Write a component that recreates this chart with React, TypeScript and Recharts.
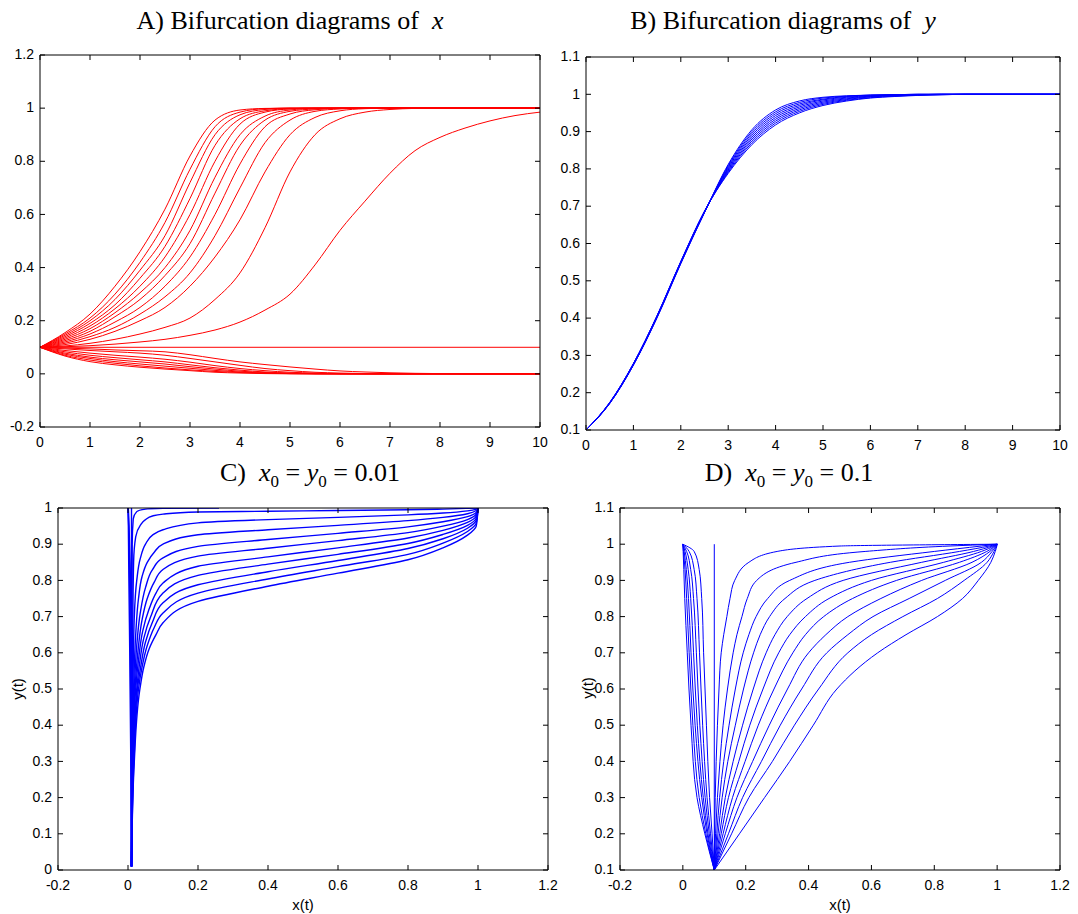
import React from 'react';
import { LineChart, Line, XAxis, YAxis } from 'recharts';

// ---------------- Panel A data: x(t), t = 0..10 ----------------
const T_A = [0, 0.5, 1, 1.5, 2, 2.5, 3, 3.5, 4, 4.5, 5, 5.5, 6, 6.5, 7, 7.5, 8, 8.5, 9, 9.5, 10];
const A_UP_1 = [0.1, 0.155, 0.225, 0.33, 0.46, 0.62, 0.82, 0.955, 0.993, 0.999, 1, 1, 1, 1, 1, 1, 1, 1, 1, 1, 1];
const A_UP_2 = [0.1, 0.15, 0.21, 0.3, 0.42, 0.57, 0.77, 0.93, 0.985, 0.998, 1, 1, 1, 1, 1, 1, 1, 1, 1, 1, 1];
const A_UP_3 = [0.1, 0.145, 0.2, 0.28, 0.39, 0.52, 0.72, 0.9, 0.975, 0.995, 1, 1, 1, 1, 1, 1, 1, 1, 1, 1, 1];
const A_UP_4 = [0.1, 0.14, 0.19, 0.26, 0.36, 0.48, 0.66, 0.86, 0.96, 0.99, 0.998, 1, 1, 1, 1, 1, 1, 1, 1, 1, 1];
const A_UP_5 = [0.1, 0.135, 0.18, 0.245, 0.33, 0.44, 0.6, 0.8, 0.94, 0.985, 0.997, 1, 1, 1, 1, 1, 1, 1, 1, 1, 1];
const A_UP_6 = [0.1, 0.13, 0.17, 0.23, 0.305, 0.4, 0.54, 0.74, 0.9, 0.97, 0.993, 0.999, 1, 1, 1, 1, 1, 1, 1, 1, 1];
const A_UP_7 = [0.1, 0.125, 0.16, 0.215, 0.28, 0.37, 0.49, 0.68, 0.86, 0.955, 0.988, 0.997, 1, 1, 1, 1, 1, 1, 1, 1, 1];
const A_UP_8 = [0.1, 0.12, 0.15, 0.195, 0.25, 0.33, 0.44, 0.6, 0.79, 0.93, 0.978, 0.994, 0.999, 1, 1, 1, 1, 1, 1, 1, 1];
const A_UP_9 = [0.1, 0.115, 0.14, 0.175, 0.225, 0.29, 0.38, 0.52, 0.7, 0.87, 0.955, 0.988, 0.997, 1, 1, 1, 1, 1, 1, 1, 1];
const A_UP_10 = [0.1, 0.11, 0.13, 0.16, 0.2, 0.25, 0.33, 0.44, 0.58, 0.76, 0.9, 0.965, 0.99, 0.998, 1, 1, 1, 1, 1, 1, 1];
const A_UP_11 = [0.1, 0.105, 0.115, 0.13, 0.15, 0.175, 0.21, 0.28, 0.38, 0.55, 0.76, 0.9, 0.96, 0.985, 0.995, 0.999, 1, 1, 1, 1, 1];
const A_UP_12 = [0.1, 0.102, 0.106, 0.112, 0.12, 0.13, 0.145, 0.165, 0.195, 0.24, 0.3, 0.41, 0.54, 0.65, 0.755, 0.84, 0.89, 0.925, 0.952, 0.972, 0.985];
const A_FLAT = [0.1, 0.1, 0.1, 0.1, 0.1, 0.1, 0.1, 0.1, 0.1, 0.1, 0.1, 0.1, 0.1, 0.1, 0.1, 0.1, 0.1, 0.1, 0.1, 0.1, 0.1];
const A_LOW_1 = [0.1, 0.097, 0.094, 0.09, 0.087, 0.083, 0.072, 0.058, 0.045, 0.035, 0.026, 0.018, 0.011, 0.007, 0.004, 0.002, 0.001, 0, 0, 0, 0];
const A_LOW_2 = [0.1, 0.094, 0.088, 0.083, 0.078, 0.07, 0.058, 0.045, 0.032, 0.02, 0.012, 0.006, 0.003, 0.001, 0, 0, 0, 0, 0, 0, 0];
const A_LOW_3 = [0.1, 0.088, 0.078, 0.07, 0.063, 0.055, 0.044, 0.031, 0.02, 0.012, 0.006, 0.003, 0.001, 0, 0, 0, 0, 0, 0, 0, 0];
const A_LOW_4 = [0.1, 0.083, 0.07, 0.061, 0.053, 0.045, 0.034, 0.023, 0.014, 0.007, 0.003, 0.001, 0, 0, 0, 0, 0, 0, 0, 0, 0];
const A_LOW_5 = [0.1, 0.078, 0.063, 0.053, 0.045, 0.037, 0.027, 0.018, 0.01, 0.005, 0.002, 0.001, 0, 0, 0, 0, 0, 0, 0, 0, 0];
const A_LOW_6 = [0.1, 0.074, 0.058, 0.046, 0.037, 0.029, 0.021, 0.013, 0.007, 0.003, 0.001, 0, 0, 0, 0, 0, 0, 0, 0, 0, 0];
const A_LOW_7 = [0.1, 0.07, 0.052, 0.04, 0.03, 0.022, 0.015, 0.009, 0.005, 0.002, 0.001, 0, 0, 0, 0, 0, 0, 0, 0, 0, 0];
const A_LOW_8 = [0.1, 0.067, 0.046, 0.034, 0.025, 0.018, 0.012, 0.006, 0.003, 0.001, 0, 0, 0, 0, 0, 0, 0, 0, 0, 0, 0];

// ---------------- Panel B data: y(t) ----------------
const B_1 = [0.1, 0.171, 0.274, 0.401, 0.546, 0.683, 0.812, 0.905, 0.958, 0.982, 0.992, 0.996, 0.998, 0.999, 1, 1, 1, 1, 1, 1, 1];
const B_2 = [0.1, 0.171, 0.274, 0.402, 0.547, 0.683, 0.809, 0.9, 0.953, 0.978, 0.99, 0.995, 0.998, 0.999, 1, 1, 1, 1, 1, 1, 1];
const B_3 = [0.1, 0.172, 0.275, 0.403, 0.548, 0.684, 0.806, 0.895, 0.948, 0.974, 0.987, 0.994, 0.997, 0.999, 1, 1, 1, 1, 1, 1, 1];
const B_4 = [0.1, 0.172, 0.275, 0.404, 0.549, 0.684, 0.803, 0.89, 0.943, 0.97, 0.985, 0.992, 0.996, 0.998, 0.999, 1, 1, 1, 1, 1, 1];
const B_5 = [0.1, 0.172, 0.276, 0.405, 0.55, 0.685, 0.8, 0.885, 0.938, 0.966, 0.982, 0.99, 0.995, 0.998, 0.999, 1, 1, 1, 1, 1, 1];
const B_6 = [0.1, 0.173, 0.277, 0.405, 0.55, 0.685, 0.797, 0.88, 0.933, 0.962, 0.979, 0.988, 0.994, 0.997, 0.999, 1, 1, 1, 1, 1, 1];
const B_7 = [0.1, 0.173, 0.277, 0.406, 0.551, 0.686, 0.794, 0.875, 0.928, 0.958, 0.976, 0.986, 0.993, 0.996, 0.998, 0.999, 1, 1, 1, 1, 1];
const B_8 = [0.1, 0.173, 0.278, 0.406, 0.551, 0.686, 0.791, 0.87, 0.923, 0.954, 0.973, 0.984, 0.991, 0.995, 0.998, 0.999, 1, 1, 1, 1, 1];
const B_9 = [0.1, 0.174, 0.278, 0.407, 0.552, 0.687, 0.788, 0.865, 0.918, 0.95, 0.97, 0.982, 0.99, 0.994, 0.997, 0.999, 1, 1, 1, 1, 1];

// ---------------- Panel C data: phase plane (x, y), x0 = y0 = 0.01 ----------------
const C_UP_1 = [[0.01, 0.01], [0.011, 0.3], [0.013, 0.6], [0.016, 0.85], [0.022, 0.92], [0.035, 0.952], [0.05, 0.968], [0.07, 0.978], [0.1, 0.983], [0.2, 0.989], [0.4, 0.991], [0.6, 0.993], [0.8, 0.995], [0.9, 0.997], [0.97, 0.999], [1, 1]];
const C_UP_2 = [[0.01, 0.01], [0.011, 0.3], [0.014, 0.5], [0.018, 0.7], [0.025, 0.8], [0.035, 0.86], [0.05, 0.9], [0.07, 0.925], [0.1, 0.94], [0.2, 0.959], [0.4, 0.968], [0.6, 0.974], [0.8, 0.981], [0.9, 0.986], [0.97, 0.992], [0.995, 0.997], [1, 1]];
const C_UP_3 = [[0.01, 0.01], [0.012, 0.3], [0.016, 0.5], [0.022, 0.65], [0.03, 0.75], [0.04, 0.81], [0.055, 0.85], [0.075, 0.878], [0.1, 0.9], [0.2, 0.926], [0.4, 0.94], [0.6, 0.952], [0.8, 0.965], [0.9, 0.974], [0.97, 0.984], [0.995, 0.993], [1, 1]];
const C_UP_4 = [[0.01, 0.01], [0.012, 0.3], [0.018, 0.5], [0.025, 0.62], [0.035, 0.71], [0.05, 0.78], [0.07, 0.83], [0.1, 0.862], [0.2, 0.894], [0.4, 0.913], [0.6, 0.93], [0.8, 0.948], [0.9, 0.962], [0.97, 0.976], [0.995, 0.988], [1, 1]];
const C_UP_5 = [[0.01, 0.01], [0.013, 0.3], [0.02, 0.5], [0.028, 0.6], [0.04, 0.69], [0.055, 0.75], [0.075, 0.795], [0.1, 0.83], [0.2, 0.867], [0.4, 0.889], [0.6, 0.91], [0.8, 0.932], [0.9, 0.95], [0.97, 0.968], [0.995, 0.983], [1, 1]];
const C_UP_6 = [[0.01, 0.01], [0.014, 0.3], [0.022, 0.5], [0.03, 0.58], [0.042, 0.66], [0.06, 0.72], [0.08, 0.765], [0.1, 0.793], [0.2, 0.839], [0.4, 0.865], [0.6, 0.89], [0.8, 0.917], [0.9, 0.938], [0.97, 0.96], [0.995, 0.978], [1, 1]];
const C_UP_7 = [[0.01, 0.01], [0.015, 0.3], [0.025, 0.5], [0.033, 0.57], [0.045, 0.64], [0.065, 0.7], [0.1, 0.765], [0.2, 0.814], [0.4, 0.845], [0.6, 0.872], [0.8, 0.902], [0.9, 0.927], [0.97, 0.952], [0.995, 0.972], [1, 1]];
const C_UP_8 = [[0.01, 0.01], [0.016, 0.3], [0.027, 0.5], [0.036, 0.56], [0.05, 0.63], [0.07, 0.685], [0.1, 0.738], [0.2, 0.788], [0.4, 0.824], [0.6, 0.855], [0.8, 0.888], [0.9, 0.915], [0.97, 0.944], [0.995, 0.966], [1, 1]];
const C_UP_9 = [[0.01, 0.01], [0.017, 0.3], [0.03, 0.5], [0.04, 0.56], [0.055, 0.62], [0.075, 0.67], [0.1, 0.71], [0.2, 0.765], [0.4, 0.804], [0.6, 0.838], [0.8, 0.872], [0.9, 0.903], [0.97, 0.935], [0.995, 0.958], [1, 1]];
const C_UP_10 = [[0.01, 0.01], [0.018, 0.3], [0.034, 0.5], [0.045, 0.56], [0.06, 0.61], [0.08, 0.65], [0.1, 0.683], [0.2, 0.742], [0.4, 0.784], [0.6, 0.82], [0.8, 0.857], [0.9, 0.89], [0.97, 0.925], [0.995, 0.95], [1, 1]];
const C_TOP = [[0.01, 0.01], [0.011, 0.5], [0.012, 0.9], [0.015, 0.97], [0.025, 0.99], [0.05, 0.997], [0.1, 0.999], [0.26, 1]];
const C_CONST = [[0.01, 0.01], [0.01, 1]];
const C_DOWN_1 = [[0.01, 0.01], [0.009, 0.3], [0.007, 0.6], [0.004, 0.85], [0.002, 0.95], [0, 1]];
const C_DOWN_2 = [[0.01, 0.01], [0.01, 0.3], [0.009, 0.6], [0.006, 0.85], [0.003, 0.95], [0.001, 1]];
const C_DOWN_3 = [[0.01, 0.01], [0.008, 0.3], [0.005, 0.6], [0.002, 0.85], [0.001, 0.95], [0, 1]];

// ---------------- Panel D data: phase plane, x0 = y0 = 0.1 ----------------
const D_LEFT_Y = [0.1, 0.2, 0.3, 0.5, 0.7, 0.85, 0.93, 0.98, 1.0];
const D_LEFT_1 = [0.1, 0.093, 0.085, 0.075, 0.066, 0.06, 0.052, 0.036, 0];
const D_LEFT_2 = [0.1, 0.088, 0.077, 0.063, 0.053, 0.045, 0.036, 0.02, 0];
const D_LEFT_3 = [0.1, 0.084, 0.071, 0.054, 0.043, 0.034, 0.025, 0.012, 0];
const D_LEFT_4 = [0.1, 0.08, 0.065, 0.046, 0.034, 0.025, 0.017, 0.007, 0];
const D_LEFT_5 = [0.1, 0.077, 0.06, 0.039, 0.026, 0.018, 0.011, 0.004, 0];
const D_LEFT_6 = [0.1, 0.073, 0.052, 0.032, 0.02, 0.012, 0.007, 0.002, 0];
const D_LEFT_7 = [0.1, 0.07, 0.045, 0.026, 0.014, 0.006, 0.003, 0.001, 0];
const D_RIGHT_Y = [0.1, 0.2, 0.3, 0.4, 0.5, 0.6, 0.7, 0.75, 0.8, 0.85, 0.9, 0.95, 0.98, 0.995, 1.0];
const D_RIGHT_1 = [0.1, 0.101, 0.103, 0.106, 0.11, 0.115, 0.122, 0.13, 0.14, 0.15, 0.165, 0.21, 0.3, 0.5, 1];
const D_RIGHT_2 = [0.1, 0.104, 0.11, 0.118, 0.128, 0.142, 0.16, 0.172, 0.188, 0.205, 0.235, 0.36, 0.58, 0.85, 1];
const D_RIGHT_3 = [0.1, 0.108, 0.117, 0.13, 0.147, 0.167, 0.192, 0.21, 0.233, 0.27, 0.34, 0.53, 0.8, 0.95, 1];
const D_RIGHT_4 = [0.1, 0.112, 0.125, 0.143, 0.167, 0.193, 0.225, 0.246, 0.276, 0.325, 0.42, 0.66, 0.88, 0.975, 1];
const D_RIGHT_5 = [0.1, 0.117, 0.135, 0.16, 0.19, 0.224, 0.265, 0.293, 0.332, 0.395, 0.51, 0.76, 0.925, 0.985, 1];
const D_RIGHT_6 = [0.1, 0.122, 0.145, 0.178, 0.213, 0.255, 0.305, 0.34, 0.39, 0.465, 0.6, 0.83, 0.95, 0.99, 1];
const D_RIGHT_7 = [0.1, 0.128, 0.158, 0.198, 0.24, 0.29, 0.35, 0.39, 0.448, 0.54, 0.68, 0.88, 0.967, 0.993, 1];
const D_RIGHT_8 = [0.1, 0.135, 0.172, 0.222, 0.275, 0.333, 0.4, 0.455, 0.525, 0.63, 0.76, 0.92, 0.977, 0.995, 1];
const D_RIGHT_9 = [0.1, 0.145, 0.19, 0.25, 0.31, 0.378, 0.458, 0.525, 0.605, 0.72, 0.835, 0.95, 0.984, 0.997, 1];
const D_RIGHT_10 = [0.1, 0.155, 0.21, 0.285, 0.355, 0.432, 0.525, 0.6, 0.7, 0.81, 0.895, 0.968, 0.99, 0.998, 1];
const D_RIGHT_11 = [0.1, 0.18, 0.26, 0.34, 0.415, 0.49, 0.62, 0.71, 0.81, 0.89, 0.94, 0.98, 0.994, 0.999, 1];
const D_VERT = [[0.1, 0.1], [0.1, 1]];

// ---------------- Tick labels ----------------
const TICKS_T = [0, 1, 2, 3, 4, 5, 6, 7, 8, 9, 10];
const TICKS_A_Y = [-0.2, 0, 0.2, 0.4, 0.6, 0.8, 1, 1.2];
const TICKS_B_Y = [0.1, 0.2, 0.3, 0.4, 0.5, 0.6, 0.7, 0.8, 0.9, 1, 1.1];
const TICKS_PH_X = [-0.2, 0, 0.2, 0.4, 0.6, 0.8, 1, 1.2];
const TICKS_C_Y = [0, 0.1, 0.2, 0.3, 0.4, 0.5, 0.6, 0.7, 0.8, 0.9, 1];
const TICKS_D_Y = [0.1, 0.2, 0.3, 0.4, 0.5, 0.6, 0.7, 0.8, 0.9, 1, 1.1];

// ---------------- Build tables ----------------
const A_SERIES = [A_UP_1, A_UP_2, A_UP_3, A_UP_4, A_UP_5, A_UP_6, A_UP_7, A_UP_8, A_UP_9, A_UP_10, A_UP_11, A_UP_12, A_FLAT,
  A_LOW_1, A_LOW_2, A_LOW_3, A_LOW_4, A_LOW_5, A_LOW_6, A_LOW_7, A_LOW_8];
const A_DATA = T_A.map((t, i) => {
  const row: any = { t };
  A_SERIES.forEach((s, k) => { row['a' + k] = s[i]; });
  return row;
});
const B_SERIES = [B_1, B_2, B_3, B_4, B_5, B_6, B_7, B_8, B_9];
const B_DATA = T_A.map((t, i) => {
  const row: any = { t };
  B_SERIES.forEach((s, k) => { row['b' + k] = s[i]; });
  return row;
});
const toPts = (arr: number[][]) => arr.map(([x, y]) => ({ x, y }));
const C_CURVES = [C_CONST, C_DOWN_1, C_DOWN_2, C_DOWN_3, C_TOP, C_UP_1, C_UP_2, C_UP_3, C_UP_4, C_UP_5, C_UP_6, C_UP_7, C_UP_8, C_UP_9, C_UP_10].map(toPts);
const fromLevels = (xs: number[], ys: number[]) => xs.map((x, i) => ({ x, y: ys[i] }));
const D_CURVES = [
  ...[D_LEFT_1, D_LEFT_2, D_LEFT_3, D_LEFT_4, D_LEFT_5, D_LEFT_6, D_LEFT_7].map((xs) => fromLevels(xs, D_LEFT_Y)),
  toPts(D_VERT),
  ...[D_RIGHT_1, D_RIGHT_2, D_RIGHT_3, D_RIGHT_4, D_RIGHT_5, D_RIGHT_6, D_RIGHT_7, D_RIGHT_8, D_RIGHT_9, D_RIGHT_10, D_RIGHT_11].map((xs) => fromLevels(xs, D_RIGHT_Y)),
];

// ---------------- Axis tick renderers (MATLAB style inward ticks) ----------------
const M = 6;
const TL = 5;
const TICK_FONT = '"Liberation Sans", Arial, sans-serif';
const TICK_SIZE = 14;

function BottomTick(props: any) {
  const { x, y, payload } = props;
  return (
    <g>
      <line x1={x} x2={x} y1={y - M} y2={y - M - TL} stroke="#000" strokeWidth={1} />
      <text x={x} y={y} dy="1em" textAnchor="middle" fontFamily={TICK_FONT} fontSize={TICK_SIZE} fill="#000">{String(payload.value)}</text>
    </g>
  );
}
function TopTick(props: any) {
  const { x, y } = props;
  return <line x1={x} x2={x} y1={y + M} y2={y + M + TL} stroke="#000" strokeWidth={1} />;
}
function LeftTick(props: any) {
  const { x, y, payload } = props;
  return (
    <g>
      <line x1={x + M} x2={x + M + TL} y1={y} y2={y} stroke="#000" strokeWidth={1} />
      <text x={x} y={y} dy="0.3em" textAnchor="end" fontFamily={TICK_FONT} fontSize={TICK_SIZE} fill="#000">{String(payload.value)}</text>
    </g>
  );
}
function RightTick(props: any) {
  const { x, y } = props;
  return <line x1={x - M} x2={x - M - TL} y1={y} y2={y} stroke="#000" strokeWidth={1} />;
}

const WL = 44, HT = 10, WR = 16, HB = 30;

function Panel(props: any) {
  const { left, top, w, h, xKey, xDomain, xTicks, yDomain, yTicks, data, children } = props;
  const axisCommon = { type: 'number' as const, allowDataOverflow: true, tickLine: false, tickSize: 0, tickMargin: M, interval: 0 as const, axisLine: { stroke: '#000', strokeWidth: 1 } };
  return (
    <div style={{ position: 'absolute', left: left - WL, top: top - HT }}>
      <LineChart width={w + WL + WR} height={h + HT + HB} margin={{ top: 0, right: 0, bottom: 0, left: 0 }} data={data}>
        <XAxis {...axisCommon} xAxisId={0} orientation="bottom" dataKey={xKey} domain={xDomain} ticks={xTicks} height={HB} tick={<BottomTick />} />
        <XAxis {...axisCommon} xAxisId="top" orientation="top" dataKey={xKey} domain={xDomain} ticks={xTicks} height={HT} tick={<TopTick />} />
        <YAxis {...axisCommon} yAxisId={0} orientation="left" domain={yDomain} ticks={yTicks} width={WL} tick={<LeftTick />} />
        <YAxis {...axisCommon} yAxisId="right" orientation="right" domain={yDomain} ticks={yTicks} width={WR} tick={<RightTick />} />
        {children}
      </LineChart>
    </div>
  );
}

const serif = '"Liberation Serif", "Times New Roman", serif';
const sans = '"Liberation Sans", Arial, sans-serif';

function Title({ cx, top, children }: any) {
  return (
    <div style={{ position: 'absolute', left: cx - 250, top, width: 500, textAlign: 'center', fontFamily: serif, fontSize: 26, lineHeight: '26px', whiteSpace: 'nowrap', color: '#000' }}>
      {children}
    </div>
  );
}

export default function App() {
  const RED = '#ff0000';
  const BLUE = '#0000ff';
  return (
    <div style={{ position: 'absolute', left: 0, top: 0, width: 1078, height: 914, background: '#fff', overflow: 'hidden' }}>
      <Title cx={290} top={8}>A) Bifurcation diagrams of&nbsp; <i>x</i></Title>
      <Title cx={783} top={8}>B) Bifurcation diagrams of&nbsp; <i>y</i></Title>
      <Title cx={310} top={460}>C)&nbsp; <i>x</i><sub style={{ fontSize: 17 }}>0</sub> = <i>y</i><sub style={{ fontSize: 17 }}>0</sub> = 0.01</Title>
      <Title cx={789} top={460}>D)&nbsp; <i>x</i><sub style={{ fontSize: 17 }}>0</sub> = <i>y</i><sub style={{ fontSize: 17 }}>0</sub> = 0.1</Title>

      <Panel left={40} top={55} w={500} h={372} xKey="t" xDomain={[0, 10]} xTicks={TICKS_T} yDomain={[-0.2, 1.2]} yTicks={TICKS_A_Y} data={A_DATA}>
        {A_SERIES.map((_, k) => (
          <Line key={'a' + k} dataKey={'a' + k} type="monotone" stroke={RED} strokeWidth={1} dot={false} activeDot={false} isAnimationActive={false} />
        ))}
      </Panel>

      <Panel left={586} top={57} w={474} h={373} xKey="t" xDomain={[0, 10]} xTicks={TICKS_T} yDomain={[0.1, 1.1]} yTicks={TICKS_B_Y} data={B_DATA}>
        {B_SERIES.map((_, k) => (
          <Line key={'b' + k} dataKey={'b' + k} type="monotone" stroke={BLUE} strokeWidth={1} dot={false} activeDot={false} isAnimationActive={false} />
        ))}
      </Panel>

      <Panel left={58} top={508} w={490} h={362} xKey="x" xDomain={[-0.2, 1.2]} xTicks={TICKS_PH_X} yDomain={[0, 1]} yTicks={TICKS_C_Y}>
        {C_CURVES.map((d, k) => (
          <Line key={'c' + k} data={d} dataKey="y" type="monotoneY" stroke={BLUE} strokeWidth={1.4} dot={false} activeDot={false} isAnimationActive={false} />
        ))}
      </Panel>

      <Panel left={620} top={508} w={440} h={362} xKey="x" xDomain={[-0.2, 1.2]} xTicks={TICKS_PH_X} yDomain={[0.1, 1.1]} yTicks={TICKS_D_Y}>
        {D_CURVES.map((d, k) => (
          <Line key={'d' + k} data={d} dataKey="y" type="monotoneY" stroke={BLUE} strokeWidth={1} dot={false} activeDot={false} isAnimationActive={false} />
        ))}
      </Panel>

      <div style={{ position: 'absolute', left: 253, top: 897, width: 100, textAlign: 'center', fontFamily: sans, fontSize: 15, lineHeight: '16px' }}>x(t)</div>
      <div style={{ position: 'absolute', left: 790, top: 897, width: 100, textAlign: 'center', fontFamily: sans, fontSize: 15, lineHeight: '16px' }}>x(t)</div>
      <div style={{ position: 'absolute', left: 18 - 50, top: 689 - 8, width: 100, textAlign: 'center', fontFamily: sans, fontSize: 15, lineHeight: '16px', transform: 'rotate(-90deg)' }}>y(t)</div>
      <div style={{ position: 'absolute', left: 588 - 50, top: 688 - 8, width: 100, textAlign: 'center', fontFamily: sans, fontSize: 15, lineHeight: '16px', transform: 'rotate(-90deg)' }}>y(t)</div>
    </div>
  );
}
